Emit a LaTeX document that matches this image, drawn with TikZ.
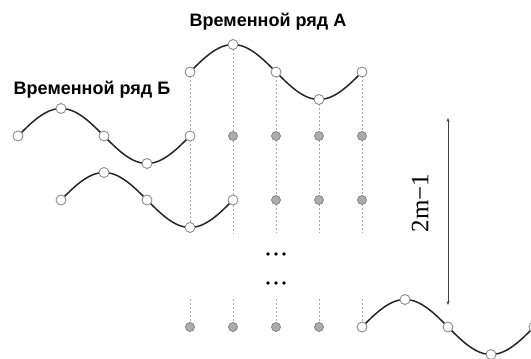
\documentclass[tikz,border=0pt]{standalone}
\usepackage{fontspec}
\setmainfont{Liberation Sans}
\newfontfamily\labelserif{Liberation Serif}
\usetikzlibrary{arrows.meta,backgrounds}

\tikzset{
    sample/.style={draw=gray!90, fill=white, circle, inner sep=0pt, minimum size=10pt, line width=0.9pt},
    shifted/.style={draw=gray, fill=gray!65, circle, inner sep=0pt, minimum size=9pt, line width=0.7pt},
    wave/.style={line width=1.5pt, black!85},
    guide/.style={gray!65, dash pattern=on 2pt off 2pt, line width=0.75pt},
    seriestitle/.style={font=\bfseries\fontsize{18}{20}\selectfont}
}

\begin{document}
\begin{tikzpicture}[x=1pt, y=-1pt]
    \useasboundingbox (0,0) rectangle (531,359);

    % titles
    \node[seriestitle] (titleA) at (268,22) {Временной ряд А};
    \node[seriestitle] (titleB) at (92,90) {Временной ряд Б};

    % guide lines
    \foreach \j in {0,...,4} {
        \coordinate (top\j) at ({190+43*\j}, {72-27.5*sin(90*\j)});
        \coordinate (up\j) at ({190+43*\j}, 233);
        \coordinate (lo\j) at ({190+43*\j}, 299);
        \coordinate (bot\j) at ({190+43*\j}, 327);
        \draw[guide] (top\j) -- (up\j);
        \draw[guide] (lo\j) -- (bot\j);
    }

    % waves
    \draw[wave] plot[domain=0:172, samples=80] ({190+\x}, {72-27.5*sin(\x/172*360)});
    \draw[wave] plot[domain=0:172, samples=80] ({18+\x}, {136-27.5*sin(\x/172*360)});
    \draw[wave] plot[domain=0:172, samples=80] ({61+\x}, {200-27.5*sin(\x/172*360)});
    \draw[wave] plot[domain=0:172, samples=80] ({362+\x}, {327-27.5*sin(\x/172*360)});

    % samples on the waves
    \foreach \j in {0,...,4} {
        \node[sample] (a\j) at ({190+43*\j}, {72-27.5*sin(90*\j)}) {};
        \node[sample] (b\j) at ({18+43*\j}, {136-27.5*sin(90*\j)}) {};
        \node[sample] (c\j) at ({61+43*\j}, {200-27.5*sin(90*\j)}) {};
        \node[sample] (d\j) at ({362+43*\j}, {327-27.5*sin(90*\j)}) {};
    }

    % empty positions
    \foreach \j in {1,...,4} \node[shifted] (p\j) at ({190+43*\j}, 136) {};
    \foreach \j in {2,...,4} \node[shifted] (q\j) at ({190+43*\j}, 200) {};
    \foreach \j in {0,...,3} \node[shifted] (r\j) at ({190+43*\j}, 327) {};

    % dots
    \foreach \y [count=\n] in {254,283}
        \foreach \x [count=\m] in {268,276,284}
            \fill (\x,\y) circle (1.8pt) coordinate (dot\n\m);

    % span
    \coordinate (spanTop) at (448,118);
    \coordinate (spanBot) at (448,305);
    \draw[{Stealth[length=4pt,width=3pt]}-{Stealth[length=4pt,width=3pt]}, line width=0.6pt, black!75] (spanTop) -- (spanBot);
    \node[rotate=90, font=\labelserif\fontsize{25}{28}\selectfont] (span) at (420,203) {2m−1};
\end{tikzpicture}
\end{document}
